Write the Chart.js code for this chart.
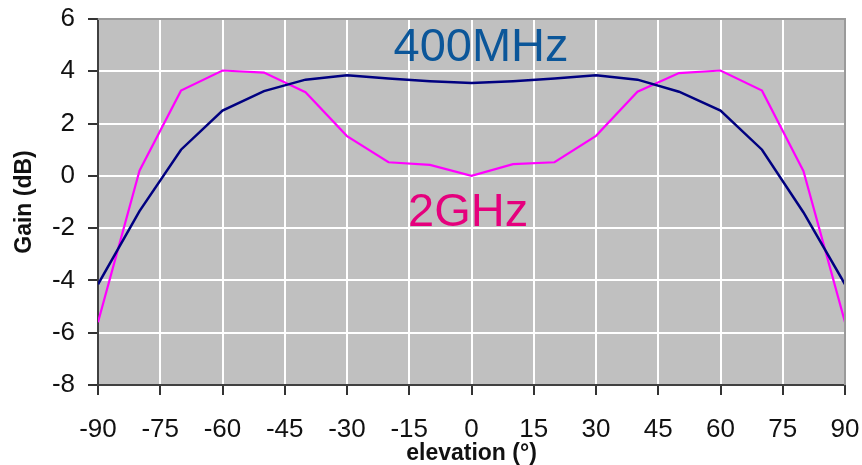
<!DOCTYPE html>
<html lang="en">
<head>
<meta charset="utf-8">
<title>Gain vs elevation</title>
<script src="https://cdn.jsdelivr.net/npm/chart.js@4.4.1/dist/chart.umd.min.js"></script>
<style>
  html, body { margin: 0; padding: 0; background: #fff; }
  #wrap { position: relative; width: 862px; height: 465px; }
</style>
</head>
<body>
<div id="wrap"><canvas id="chart"></canvas></div>
<script>
// elevation angles (deg) where gain was measured
const elevation = [-90, -80, -70, -60, -50, -40, -30, -20, -10, 0, 10, 20, 30, 40, 50, 60, 70, 80, 90];
// gain (dB)
const gain400MHz = [-4.15, -1.35, 1.0, 2.5, 3.24, 3.68, 3.85, 3.72, 3.62, 3.55, 3.62, 3.72, 3.85, 3.68, 3.22, 2.5, 1.0, -1.4, -4.15];
const gain2GHz = [-5.6, 0.2, 3.26, 4.03, 3.95, 3.2, 1.52, 0.52, 0.42, 0.0, 0.45, 0.52, 1.53, 3.22, 3.93, 4.03, 3.26, 0.18, -5.6];

const xTicks = [-90, -75, -60, -45, -30, -15, 0, 15, 30, 45, 60, 75, 90];
const yTicks = [-8, -6, -4, -2, 0, 2, 4, 6];

// in-plot series labels: [text, x, y (baseline), colour]
const seriesLabels = [
  ['400MHz', 2.3, 4.4, '#0B5699'],
  ['2GHz', -0.8, -1.92, '#E5007D']
];

const FONT = '"Liberation Sans", Arial, sans-serif';

const plotArea = {
  id: 'plotArea',
  beforeDraw(chart) {
    const a = chart.chartArea, ctx = chart.ctx;
    ctx.save();
    ctx.fillStyle = '#C0C0C0';
    ctx.fillRect(a.left, a.top, a.right - a.left, a.bottom - a.top);
    ctx.restore();
  },
  afterDraw(chart) {
    const a = chart.chartArea, ctx = chart.ctx;
    ctx.save();
    // grey frame on top and right
    ctx.strokeStyle = '#9A9A9A';
    ctx.lineWidth = 2;
    ctx.beginPath();
    ctx.moveTo(a.left, a.top);
    ctx.lineTo(a.right, a.top);
    ctx.lineTo(a.right, a.bottom);
    ctx.stroke();
    // series labels
    const xs = chart.scales.x, ys = chart.scales.y;
    ctx.font = '47px ' + FONT;
    ctx.textAlign = 'center';
    ctx.textBaseline = 'alphabetic';
    for (const [t, x, y, c] of seriesLabels) {
      ctx.fillStyle = c;
      ctx.fillText(t, xs.getPixelForValue(x), ys.getPixelForValue(y));
    }
    ctx.restore();
  }
};

new Chart(document.getElementById('chart'), {
  type: 'line',
  data: {
    datasets: [
      {
        label: '400MHz',
        data: elevation.map((e, i) => ({ x: e, y: gain400MHz[i] })),
        borderColor: '#000080',
        borderWidth: 2.5,
        pointRadius: 0,
        tension: 0
      },
      {
        label: '2GHz',
        data: elevation.map((e, i) => ({ x: e, y: gain2GHz[i] })),
        borderColor: '#FF00FF',
        borderWidth: 2.2,
        pointRadius: 0,
        tension: 0
      }
    ]
  },
  options: {
    responsive: true,
    maintainAspectRatio: false,
    animation: false,
    layout: { padding: { top: 19, right: 17, left: 0, bottom: 0 } },
    plugins: { legend: { display: false }, tooltip: { enabled: false } },
    scales: {
      x: {
        type: 'linear',
        min: -90,
        max: 90,
        afterBuildTicks: s => { s.ticks = xTicks.map(v => ({ value: v })); },
        afterFit: s => { s.height = 80; s.paddingLeft = 0; s.paddingRight = 0; },
        ticks: { color: '#111', font: { family: FONT, size: 26 }, padding: 19, maxRotation: 0 },
        grid: { color: '#FFFFFF', lineWidth: 2, tickColor: '#333', tickLength: 10, tickWidth: 2 },
        border: { color: '#404040', width: 2 },
        title: {
          display: true,
          text: 'elevation (°)',
          color: '#111',
          font: { family: FONT, size: 23, weight: 'bold' },
          padding: { top: 0, bottom: -2 }
        }
      },
      y: {
        min: -8,
        max: 6,
        afterBuildTicks: s => { s.ticks = yTicks.map(v => ({ value: v })); },
        afterFit: s => { s.width = 98; s.paddingTop = 0; s.paddingBottom = 0; },
        ticks: { color: '#111', font: { family: FONT, size: 26 }, padding: 13 },
        grid: { color: '#FFFFFF', lineWidth: 2, tickColor: '#333', tickLength: 10, tickWidth: 2 },
        border: { color: '#404040', width: 2 },
        title: {
          display: true,
          text: 'Gain (dB)',
          color: '#111',
          font: { family: FONT, size: 23, weight: 'bold' },
          padding: { top: 11, bottom: 0 }
        }
      }
    }
  },
  plugins: [plotArea]
});
</script>
</body>
</html>
